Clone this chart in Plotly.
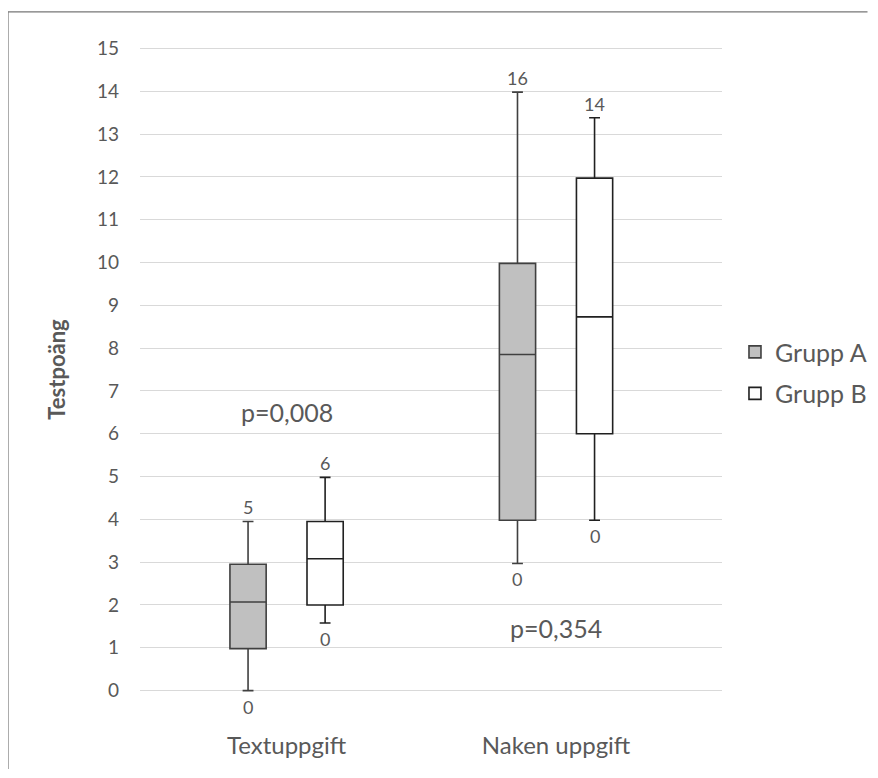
import plotly.graph_objects as go

categories = ["Textuppgift", "Naken uppgift"]

# Grupp A statistics
a_low = [0.0, 2.97]
a_q1 = [0.98, 3.98]
a_median = [2.07, 7.85]
a_q3 = [2.95, 9.98]
a_high = [3.95, 13.98]

# Grupp B statistics
b_low = [1.58, 3.98]
b_q1 = [2.0, 6.0]
b_median = [3.08, 8.73]
b_q3 = [3.95, 11.97]
b_high = [4.98, 13.38]

# data labels shown in the chart
a_max_labels = ["5", "16"]
a_min_labels = ["0", "0"]
b_max_labels = ["6", "14"]
b_min_labels = ["0", "0"]

p_labels = ["p=0,008", "p=0,354"]
p_y = [6.5, 1.47]

y_ticks = list(range(0, 16))

FONT = "Lato"
TXT = "#595959"
BOXLINE = "#404040"

boxgap = 0.428
boxgroupgap = 0.53
offset = (1 - boxgap) / 4

fig = go.Figure()
fig.add_trace(go.Box(
    name="Grupp A", x=categories, q1=a_q1, median=a_median, q3=a_q3,
    lowerfence=a_low, upperfence=a_high,
    fillcolor="#c0c0c0", line=dict(color=BOXLINE, width=1.6),
    whiskerwidth=0.3, boxpoints=False, legendgroup="A", hoverinfo="skip",
))
fig.add_trace(go.Box(
    name="Grupp B", x=categories, q1=b_q1, median=b_median, q3=b_q3,
    lowerfence=b_low, upperfence=b_high,
    fillcolor="#ffffff", line=dict(color="#202020", width=1.6),
    whiskerwidth=0.3, boxpoints=False, legendgroup="B", hoverinfo="skip",
))

annotations = []
for i, cat in enumerate(categories):
    for off, hi, lo, hl, ll in [(-offset, a_high[i], a_low[i], a_max_labels[i], a_min_labels[i]),
                                (offset, b_high[i], b_low[i], b_max_labels[i], b_min_labels[i])]:
        annotations.append(dict(x=i + off, y=hi, xref="x", yref="y", text=hl,
                                showarrow=False, yanchor="bottom", yshift=1,
                                font=dict(family=FONT, size=18, color=TXT)))
        annotations.append(dict(x=i + off, y=lo, xref="x", yref="y", text=ll,
                                showarrow=False, yanchor="top", yshift=-3,
                                font=dict(family=FONT, size=18, color=TXT)))
    annotations.append(dict(x=i, y=p_y[i], xref="x", yref="y", text=p_labels[i],
                            showarrow=False, yanchor="middle",
                            font=dict(family=FONT, size=25, color=TXT)))

border = dict(color="#767676", width=1.2)

fig.update_layout(
    width=862, height=762,
    margin=dict(l=132, r=148, t=34, b=73, autoexpand=False),
    paper_bgcolor="white", plot_bgcolor="white",
    boxmode="group", boxgap=boxgap, boxgroupgap=boxgroupgap,
    font=dict(family=FONT, color=TXT),
    xaxis=dict(type="category", range=[-0.544, 1.616], showgrid=False,
               showline=False, zeroline=False, ticks="",
               tickfont=dict(family=FONT, size=24, color=TXT),
               ticklabelstandoff=32, automargin=False),
    yaxis=dict(range=[-0.15, 15.15], tickvals=y_ticks, showgrid=True,
               gridcolor="#d9d9d9", gridwidth=1.3, zeroline=False, showline=False,
               tickfont=dict(family=FONT, size=19, color=TXT),
               ticklabelstandoff=20, automargin=False,
               title=dict(text="<b>Testpoäng</b>", standoff=25,
                          font=dict(family=FONT, size=22, color=TXT))),
    legend=dict(x=1.0223, xanchor="left", y=0.4953, yanchor="middle",
                font=dict(family=FONT, size=25, color=TXT),
                tracegroupgap=6, bgcolor="rgba(0,0,0,0)"),
    annotations=annotations,
    shapes=[
        dict(type="line", xref="paper", yref="paper",
             x0=-0.2268, x1=-0.2268, y0=-0.11, y1=1.046, line=border, layer="below"),
        dict(type="line", xref="paper", yref="paper",
             x0=-0.2268, x1=1.25, y0=1.046, y1=1.046, line=border, layer="below"),
    ],
    showlegend=True,
)

fig.write_html("out.html")
